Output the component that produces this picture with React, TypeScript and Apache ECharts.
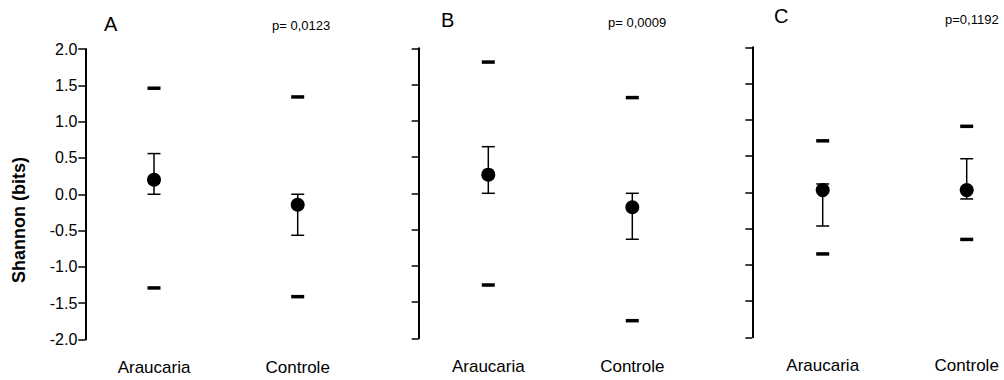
import React, { useEffect, useRef } from "react";
import * as echarts from "echarts";

const categories = ["Araucaria", "Controle"];
const panelLetters = ["A", "B", "C"];
const pValues = ["p= 0,0123", "p= 0,0009", "p=0,1192"];
const yTitle = "Shannon (bits)";

// per panel: [Araucaria, Controle]
const meansA = [0.2, -0.145];
const errLowA = [0.0, -0.565];
const errHighA = [0.56, 0.0];
const maxA = [1.46, 1.34];
const minA = [-1.29, -1.41];

const meansB = [0.257, -0.193];
const errLowB = [0.0, -0.634];
const errHighB = [0.643, 0.0];
const maxB = [1.81, 1.32];
const minB = [-1.265, -1.757];

const meansC = [0.03, 0.03];
const errLowC = [-0.465, -0.092];
const errHighC = [0.115, 0.463];
const maxC = [0.71, 0.91];
const minC = [-0.85, -0.65];

const yTicksMin = -2.0;
const yTicksMax = 2.0;
const yTickStep = 0.5;

const FONT = "'Liberation Sans', Arial, sans-serif";

const panels = [
  { means: meansA, lo: errLowA, hi: errHighA, mx: maxA, mn: minA },
  { means: meansB, lo: errLowB, hi: errHighB, mx: maxB, mn: minB },
  { means: meansC, lo: errLowC, hi: errHighC, mx: maxC, mn: minC },
];

// grid spans from the first to the second category; y axis is offset to the left
const gridPos = [
  { left: 154, top: 49, width: 143.7, height: 290.5, axisX: 85.3 },
  { left: 488.3, top: 48.3, width: 144, height: 290, axisX: 418.7 },
  { left: 822.7, top: 47.3, width: 144, height: 290, axisX: 752.3 },
];

const letterPos = [
  { x: 104, y: 24 },
  { x: 441, y: 19.5 },
  { x: 774, y: 16 },
];
const pPos = [
  { x: 272, y: 25 },
  { x: 608, y: 22.5 },
  { x: 945, y: 19 },
];

export default function App() {
  const ref = useRef<HTMLDivElement>(null);
  useEffect(() => {
    if (!ref.current) return;
    const chart = echarts.init(ref.current, undefined, { renderer: "svg" });

    const grid = gridPos.map((g) => ({
      left: g.left,
      top: g.top,
      width: g.width,
      height: g.height,
      containLabel: false,
    }));

    const xAxis = gridPos.map((_, i) => ({
      type: "category",
      gridIndex: i,
      data: categories,
      boundaryGap: false,
      axisLine: { show: false },
      axisTick: { show: false },
      splitLine: { show: false },
      axisLabel: {
        margin: 19.5,
        fontSize: 17,
        color: "#000",
        fontFamily: FONT,
        interval: 0,
      },
    }));

    const yAxis = gridPos.map((g, i) => ({
      type: "value",
      gridIndex: i,
      min: yTicksMin,
      max: yTicksMax,
      interval: yTickStep,
      offset: g.left - g.axisX,
      axisLine: { show: true, lineStyle: { color: "#000", width: 2 } },
      axisTick: {
        show: true,
        inside: false,
        length: 7,
        lineStyle: { color: "#000", width: 1.5 },
      },
      splitLine: { show: false },
      axisLabel: {
        show: i === 0,
        margin: 8,
        fontSize: 16,
        color: "#000",
        fontFamily: FONT,
        formatter: (v: number) => v.toFixed(1),
      },
    }));

    const series: any[] = [];
    panels.forEach((p, i) => {
      series.push({
        type: "custom",
        xAxisIndex: i,
        yAxisIndex: i,
        z: 1,
        clip: false,
        data: categories.map((c, k) => [k, p.means[k], p.lo[k], p.hi[k]]),
        encode: { x: 0, y: [1, 2, 3] },
        renderItem: (params: any, api: any) => {
          const x = api.value(0);
          const lo = api.coord([x, api.value(2)]);
          const hi = api.coord([x, api.value(3)]);
          const hw = 6.5;
          const style = { stroke: "#000", lineWidth: 1.5 };
          return {
            type: "group",
            children: [
              { type: "line", shape: { x1: lo[0], y1: lo[1], x2: hi[0], y2: hi[1] }, style },
              { type: "line", shape: { x1: lo[0] - hw, y1: lo[1], x2: lo[0] + hw, y2: lo[1] }, style },
              { type: "line", shape: { x1: hi[0] - hw, y1: hi[1], x2: hi[0] + hw, y2: hi[1] }, style },
            ],
          };
        },
      });
      series.push({
        type: "scatter",
        xAxisIndex: i,
        yAxisIndex: i,
        z: 3,
        clip: false,
        symbol: "circle",
        symbolSize: 14,
        itemStyle: { color: "#000", opacity: 1 },
        data: categories.map((c, k) => [k, p.means[k]]),
      });
      series.push({
        type: "scatter",
        xAxisIndex: i,
        yAxisIndex: i,
        z: 2,
        clip: false,
        symbol: "rect",
        symbolSize: [13, 3.5],
        itemStyle: { color: "#000", opacity: 1 },
        data: categories
          .map((c, k) => [k, p.mx[k]])
          .concat(categories.map((c, k) => [k, p.mn[k]])),
      });
    });

    const graphic: any[] = [
      {
        type: "text",
        x: 19,
        y: 220,
        rotation: Math.PI / 2,
        style: {
          text: yTitle,
          fontSize: 18,
          fontWeight: "bold",
          fontFamily: FONT,
          fill: "#000",
          align: "center",
          verticalAlign: "middle",
        },
      },
    ];
    panelLetters.forEach((t, i) => {
      graphic.push({
        type: "text",
        x: letterPos[i].x,
        y: letterPos[i].y,
        style: {
          text: t,
          fontSize: 20,
          fontFamily: FONT,
          fill: "#000",
          verticalAlign: "middle",
          align: "left",
        },
      });
      graphic.push({
        type: "text",
        x: pPos[i].x,
        y: pPos[i].y,
        style: {
          text: pValues[i],
          fontSize: 13,
          fontFamily: FONT,
          fill: "#000",
          verticalAlign: "middle",
          align: "left",
        },
      });
    });

    chart.setOption({
      animation: false,
      backgroundColor: "#fff",
      textStyle: { fontFamily: FONT },
      grid,
      xAxis,
      yAxis,
      series,
      graphic,
    } as any);

    return () => chart.dispose();
  }, []);

  return (
    <div
      ref={ref}
      style={{ position: "fixed", left: 0, top: 0, width: 1004, height: 380, background: "#fff" }}
    />
  );
}
